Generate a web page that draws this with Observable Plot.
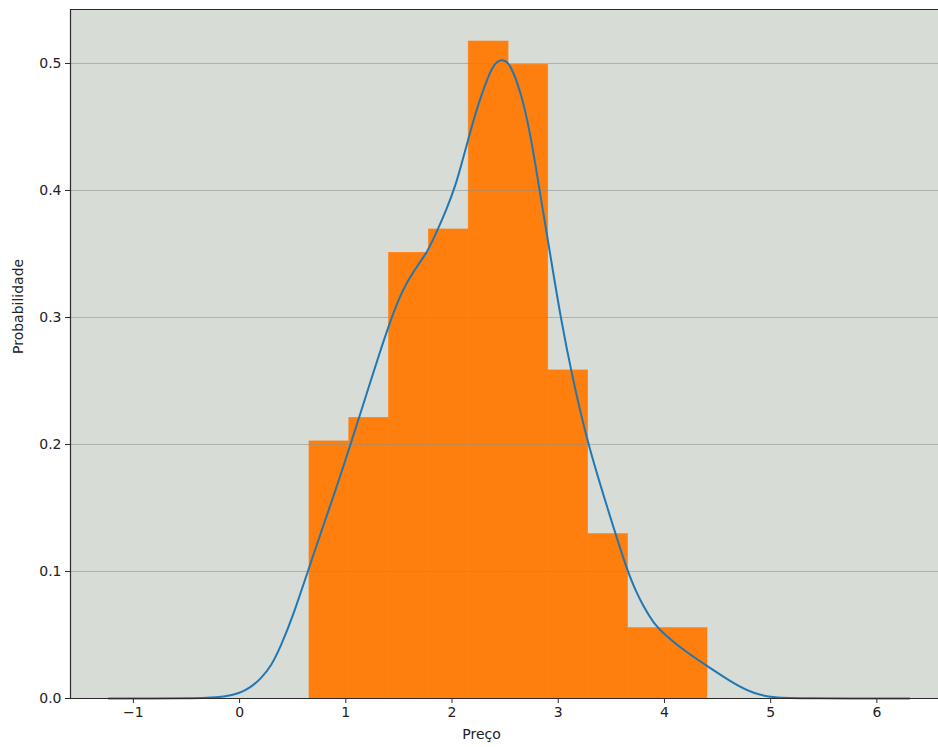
<!DOCTYPE html>
<html>
<head>
<meta charset="utf-8">
<script src="https://cdn.jsdelivr.net/npm/d3@7"></script>
<script src="https://cdn.jsdelivr.net/npm/@observablehq/plot@0.6"></script>
<style>
  html, body { margin: 0; padding: 0; background: #fff; }
  #chart svg { display: block; }
</style>
</head>
<body>
<div id="chart"></div>
<script>
// Histogram of prices (density-normalised), 10 bins
const binEdges = [0.658, 1.033, 1.408, 1.782, 2.157, 2.532, 2.906, 3.281, 3.656, 4.030, 4.405];
const density = [0.2024, 0.2210, 0.3509, 0.3693, 0.5173, 0.4990, 0.2583, 0.1294, 0.0554, 0.0554];

// Kernel density estimate curve
const kdeX = [-1.232, -0.8, -0.5, -0.3, -0.15, 0.0, 0.1, 0.2, 0.3, 0.385, 0.51, 0.642, 0.762, 0.9, 1.044,
  1.17, 1.3, 1.43, 1.53, 1.64, 1.766, 1.866, 1.95, 2.03, 2.1, 2.18, 2.268, 2.363, 2.41, 2.457, 2.51, 2.551,
  2.645, 2.739, 2.824, 2.924, 3.022, 3.13, 3.279, 3.461, 3.65, 3.74, 3.806, 3.9, 3.994, 4.183, 4.418, 4.653,
  4.842, 5.03, 5.3, 6.305];
const kdeY = [0, 0, 0.0001, 0.0004, 0.0013, 0.004, 0.0085, 0.0155, 0.026, 0.0404, 0.0667, 0.1, 0.1297, 0.163, 0.200,
  0.233, 0.2675, 0.300, 0.321, 0.337, 0.3509, 0.3693, 0.3855, 0.403, 0.424, 0.449, 0.4735, 0.4945, 0.5005, 0.5031, 0.5018, 0.4984,
  0.4787, 0.4446, 0.400, 0.350, 0.300, 0.254, 0.200, 0.1506, 0.100, 0.083, 0.0719, 0.059, 0.0509, 0.0378, 0.0247, 0.0116,
  0.0037, 0.0005, 0.0001, 0];

const xTicks = [-1, 0, 1, 2, 3, 4, 5, 6];
const yTicks = [0, 0.1, 0.2, 0.3, 0.4, 0.5];
const xDomain = [-1.592, 6.58];
const yDomain = [0, 0.5425];

const bins = density.map((d, i) => ({x1: binEdges[i], x2: binEdges[i + 1], y: d}));
const kde = kdeX.map((x, i) => ({x, y: kdeY[i]}));

const spine = "#2b2b2b";
const font = "DejaVu Sans, sans-serif";

const chart = Plot.plot({
  width: 938,
  height: 747,
  marginLeft: 70,
  marginRight: 0,
  marginTop: 9,
  marginBottom: 49,
  style: {fontFamily: font, fontSize: "14px", color: "#222", background: "#fff"},
  x: {domain: xDomain},
  y: {domain: yDomain},
  marks: [
    Plot.frame({fill: "#d8dcd6", stroke: null}),
    Plot.rectY(bins, {x1: "x1", x2: "x2", y: "y", fill: "#ff7f0e", stroke: "#ff7f0e", strokeWidth: 0.6, inset: 0}),
    Plot.gridY(yTicks, {stroke: "#8e8e8e", strokeOpacity: 0.55, strokeWidth: 1}),
    Plot.line(kde, {x: "x", y: "y", stroke: "#1f77b4", strokeWidth: 2, curve: "basis"}),
    Plot.ruleX([xDomain[0]], {stroke: spine, strokeWidth: 1.2}),
    Plot.ruleY([yDomain[0]], {stroke: spine, strokeWidth: 1.2}),
    Plot.ruleY([yDomain[1]], {stroke: spine, strokeWidth: 1.2}),
    Plot.axisX(xTicks, {tickSize: 5, tickPadding: 4, tickFormat: d3.format("d"), stroke: spine, label: null, fontSize: 14}),
    Plot.axisY(yTicks, {tickSize: 5, tickPadding: 4, tickFormat: d3.format(".1f"), stroke: spine, label: null, fontSize: 14}),
    Plot.text(["Preço"], {frameAnchor: "bottom", dx: -23, dy: 40, fontSize: 14, fill: "#222"}),
    Plot.text(["Probabilidade"], {frameAnchor: "left", dx: -52, rotate: -90, fontSize: 14, fill: "#222"})
  ]
});

document.getElementById("chart").appendChild(chart);
</script>
</body>
</html>
